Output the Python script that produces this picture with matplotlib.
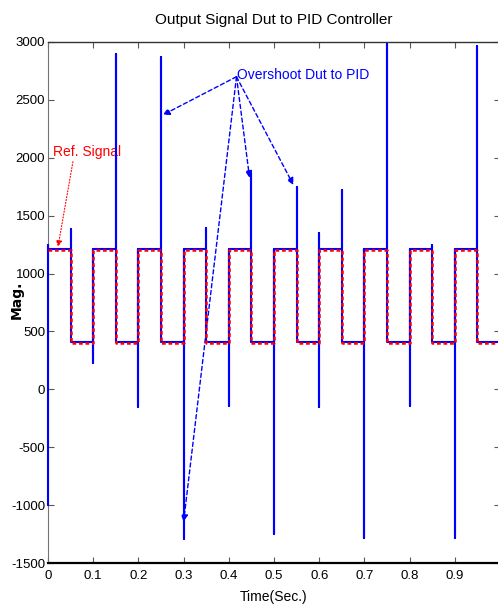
import numpy as np
import matplotlib
matplotlib.use("Agg")
import matplotlib.pyplot as plt

plt.rcParams['font.family'] = ['Liberation Sans', 'DejaVu Sans']
plt.rcParams['axes.unicode_minus'] = False

# square wave reference: level changes every 0.05 s
edge_times = [0.05, 0.10, 0.15, 0.20, 0.25, 0.30, 0.35, 0.40, 0.45, 0.50,
              0.55, 0.60, 0.65, 0.70, 0.75, 0.80, 0.85, 0.90, 0.95]
ref_levels = [1200, 400, 1200, 400, 1200, 400, 1200, 400, 1200, 400,
              1200, 400, 1200, 400, 1200, 400, 1200, 400, 1200, 400]
out_levels = [1212, 412, 1212, 412, 1212, 412, 1212, 412, 1212, 412,
              1212, 412, 1212, 412, 1212, 412, 1212, 412, 1212, 412]
# peak reached by the output at each edge (up side, down side)
spike_up = [1385, 1212, 2900, 1212, 2870, 1212, 1395, 1212, 1870, 1212,
            1750, 1350, 1720, 1212, 2980, 1212, 1250, 1212, 2965]
spike_down = [412, 228, 412, -150, 412, -1290, 412, -145, 412, -1250,
              412, -150, 412, -1280, 412, -145, 412, -1280, 412]
start_vals = [-1000, 1250]
t_end = 1.0

# build step polylines from the lists
ref_t = [0.0]
ref_y = [ref_levels[0]]
out_t = [0.0, 0.0, 0.0]
out_y = start_vals + [out_levels[0]]
for k, te in enumerate(edge_times):
    ref_t += [te, te]
    ref_y += [ref_levels[k], ref_levels[k + 1]]
    out_t += [te, te, te, te]
    out_y += [out_levels[k], spike_up[k], spike_down[k], out_levels[k + 1]]
ref_t.append(t_end)
ref_y.append(ref_levels[-1])
out_t.append(t_end)
out_y.append(out_levels[-1])

fig = plt.figure(figsize=(4.98, 6.13), dpi=100)
ax = fig.add_axes([48 / 498, 50 / 613, 452 / 498, 521 / 613])

ax.plot(out_t, out_y, color='blue', lw=1.5, zorder=4, clip_on=False)
ax.plot(ref_t, ref_y, color='red', lw=1.8, dashes=(1.5, 1.1), zorder=5)

ax.set_xlim(0, 1.0)
ax.set_ylim(-1500, 3000)
ax.set_xticks(np.arange(0, 0.95, 0.1))
ax.set_xticklabels(['0', '0.1', '0.2', '0.3', '0.4', '0.5', '0.6', '0.7', '0.8', '0.9'])
ax.set_yticks(np.arange(-1500, 3001, 500))
ax.tick_params(direction='in', length=4, width=0.8, color='0.35',
               top=True, right=True, labelsize=9.5)
ax.tick_params(axis='x', pad=5)
ax.tick_params(axis='y', pad=2)

ax.spines['left'].set_color('0.45')
ax.spines['bottom'].set_linewidth(1.6)
ax.spines['top'].set_linewidth(1.0)
ax.spines['top'].set_color('0.2')

ax.set_title('Output Signal Dut to PID Controller', fontsize=11, pad=13)
ax.set_xlabel('Time(Sec.)', fontsize=10, labelpad=6)
ax.set_ylabel('Mag.', fontsize=10, fontweight='bold', family='DejaVu Sans')
ax.yaxis.set_label_coords(-0.053, 0.505)

# annotations
ax.annotate('Ref. Signal', xy=(0.022, 1230), xytext=(0.011, 2050),
            color='red', fontsize=10, va='center', ha='left',
            arrowprops=dict(arrowstyle='-|>', color='red', lw=0.8,
                            linestyle=':', shrinkA=0, shrinkB=0,
                            mutation_scale=9, relpos=(0.3, 0.0)))

txt_xy = (0.417, 2700)
heads = [(0.254, 2370), (0.446, 1826), (0.543, 1765), (0.300, -1145)]
ax.text(0.418, 2715, 'Overshoot Dut to PID', color='blue', fontsize=10,
        va='center', ha='left')
for h in heads:
    ax.annotate('', xy=h, xytext=txt_xy,
                arrowprops=dict(arrowstyle='-|>', color='blue', lw=1.0,
                                linestyle=(0, (3, 2)), shrinkA=0, shrinkB=0,
                                mutation_scale=10))

fig.savefig('out.png', dpi=100)
